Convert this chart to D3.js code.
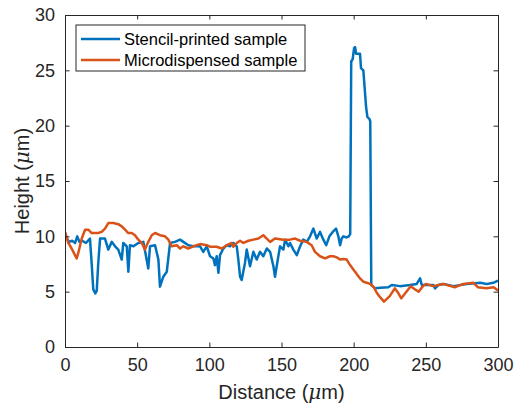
<!DOCTYPE html>
<html>
<head>
<meta charset="utf-8">
<script src="https://cdn.jsdelivr.net/npm/d3@7"></script>
<style>
  html, body { margin: 0; padding: 0; background: #fff; }
  svg { display: block; font-family: "Liberation Sans", Arial, sans-serif; }
</style>
</head>
<body>
<div id="chart"></div>
<script>
// profile data
const stencilDist = [0, 1.2, 3, 5, 7, 8.5, 10, 12, 14.5, 17.3, 18.5, 19.6, 21, 22, 23, 24.3, 27.7, 30, 32.4, 34.7,
  36.9, 39.3, 40.4, 42.8, 43.9, 45, 47.4, 50.8, 54.3, 57.7, 58.9, 62.4, 64.7, 65.8, 68.1, 70.5, 72.8, 76.2, 79.7, 82,
  85.5, 88.9, 91, 93.6, 95.8, 98.2, 100.5, 102.8, 103.9, 105.1, 106.3, 107.4, 109.7, 112.1, 114.3, 116.6, 119, 120.1,
  121.3, 122.4, 124.7, 125.9, 128.2, 130.5, 132.8, 135.1, 137.4, 139.8, 142.1, 144.4, 145.5, 147.8, 149, 151.3, 152.5,
  154.8, 155.9, 158.2, 160.6, 162.9, 165.1, 167.5, 169.8, 172.1, 174.4, 176.7, 179, 181, 183.2, 185.5, 187.8, 189.4,
  190.6, 191.7, 192.9, 195.2, 196.6, 197.6, 198.3, 199.3, 200.3, 201, 201.7, 204.4, 205.1, 206.7, 208.6, 209.5, 210.9,
  211.5, 212.2, 214.8, 218.3, 224, 226.4, 232, 239, 243.7, 246, 247.2, 255.2, 256.4, 258.7, 262.2, 269.1, 278.4, 287.6,
  292.2, 296.8, 300];
const stencilHeight = [10.3, 9.8, 9.5, 9.6, 9.4, 10.0, 9.5, 9.6, 9.4, 9.8, 7.5, 5.2, 4.85, 5.1, 7.5, 9.8, 9.8, 8.8, 9.5, 9.1,
  8.8, 7.9, 9.4, 9.1, 6.8, 9.2, 9.1, 9.4, 9.5, 7.1, 9.1, 9.2, 7.9, 5.45, 6.35, 6.8, 9.4, 9.5, 9.7, 9.5,
  9.2, 9.1, 9.1, 9.1, 8.6, 9.1, 8.2, 8.0, 7.4, 8.2, 6.7, 8.3, 8.9, 9.2, 9.1, 9.4, 9.1, 7.9,
  6.35, 6.05, 7.6, 8.8, 7.3, 8.6, 7.9, 8.6, 8.2, 8.9, 8.6, 7.3, 6.35, 8.2, 9.1, 8.8, 9.7,
  9.1, 9.4, 8.8, 8.3, 9.1, 9.7, 9.5, 10.0, 10.7, 9.8, 10.4, 9.7, 9.2, 10.0, 10.4, 10.7, 10.0,
  9.2, 9.8, 10.0, 9.9, 10.0, 10.2, 25.8, 26.0, 27.0, 27.1, 26.5, 26.5, 25.2, 25.0, 21.7, 20.8, 20.6,
  20.4, 5.6, 5.3, 5.35, 5.4, 5.6, 5.5, 5.6, 5.7, 6.2, 5.6, 5.6, 5.3, 5.6, 5.7, 5.5, 5.7, 5.8,
  5.7, 5.8, 6.0];

const microDist = [0, 2.3, 4.6, 6.9, 8.1, 9.2, 11.6, 13.9, 16.2, 18.5, 20.8, 23.1, 25.4, 27.7, 30, 33.5, 36.9, 39.3, 41.6,
  43.9, 46.2, 48.5, 50.8, 53.2, 55.4, 57.7, 60.1, 62.4, 65.8, 69.3, 71.6, 73.9, 77.4, 79.7, 82, 85.4, 88.9, 93.6, 98.2,
  100.5, 105.1, 108.5, 112.1, 115.5, 116.6, 119, 121.3, 123.6, 127.1, 130.5, 134, 137.4, 139.8, 142.1, 145.5, 151.3,
  155.9, 159.4, 162.9, 167.5, 170.9, 173.2, 176.7, 180.2, 183.6, 185.9, 188.3, 190.6, 192.9, 195.2, 197.5, 199.8,
  202.1, 204.4, 206.7, 209.1, 211.4, 213.7, 216, 218.3, 221, 225, 228.5, 231, 233, 236, 239.5, 242.6, 245, 248, 250,
  255, 262, 270, 276, 283, 286, 292, 297, 300];
const microHeight = [10.4, 9.4, 8.9, 8.3, 8.0, 8.5, 9.8, 10.6, 10.6, 10.3, 10.3, 10.3, 10.4, 10.7, 11.2, 11.2, 11.1, 10.9, 10.6,
  10.3, 10.3, 10.1, 9.7, 9.4, 8.8, 9.5, 10.1, 10.3, 10.1, 10.0, 9.7, 9.1, 9.2, 8.9, 9.1, 8.9, 9.1, 9.3, 9.2,
  9.06, 9.06, 8.9, 9.2, 9.4, 9.06, 9.4, 9.6, 9.4, 9.6, 9.7, 9.8, 10.1, 9.8, 9.5, 9.8, 9.7,
  9.7, 9.8, 9.6, 9.5, 9.2, 8.6, 8.2, 8.0, 8.2, 8.2, 8.1, 7.9, 7.95, 7.9, 7.4, 7.0,
  6.6, 6.2, 5.9, 5.8, 5.7, 5.45, 4.9, 4.5, 4.1, 4.6, 5.3, 4.85, 4.4, 4.9, 5.5, 5.2, 5.0, 5.5, 5.7,
  5.5, 5.7, 5.4, 5.7, 5.8, 5.4, 5.3, 5.4, 5.1];

const xTicks = [0, 50, 100, 150, 200, 250, 300];
const yTicks = [0, 5, 10, 15, 20, 25, 30];
const seriesNames = ['Stencil-printed sample', 'Microdispensed sample'];
const seriesColors = ['#0072BD', '#D95319'];

const width = 527, height = 407;
const margin = { top: 15, right: 29, bottom: 60, left: 65 };
const plotW = width - margin.left - margin.right;
const plotH = height - margin.top - margin.bottom;
const axisColor = '#262626';
const tickLen = 4.5;
const lineW = 2.5;

const svg = d3.select('#chart').append('svg')
  .attr('width', width)
  .attr('height', height);

const x = d3.scaleLinear().domain([0, 300]).range([0, plotW]);
const y = d3.scaleLinear().domain([0, 30]).range([plotH, 0]);

svg.append('defs').append('clipPath').attr('id', 'plot-clip')
  .append('rect').attr('width', plotW).attr('height', plotH);

const g = svg.append('g').attr('transform', `translate(${margin.left},${margin.top})`);

// series
const series = [
  stencilDist.map((d, i) => [d, stencilHeight[i]]),
  microDist.map((d, i) => [d, microHeight[i]]),
];
const line = d3.line().x(d => x(d[0])).y(d => y(d[1]));

g.append('g').attr('clip-path', 'url(#plot-clip)')
  .selectAll('path')
  .data(series)
  .join('path')
  .attr('d', line)
  .attr('fill', 'none')
  .attr('stroke', (d, i) => seriesColors[i])
  .attr('stroke-width', lineW)
  .attr('stroke-linejoin', 'round');

// axes (ticks inside, mirrored on top/right)
function styleAxis(sel) {
  sel.select('.domain').attr('stroke', axisColor).attr('stroke-width', 1);
  sel.selectAll('.tick line').attr('stroke', axisColor).attr('stroke-width', 1);
  sel.selectAll('.tick text').attr('fill', axisColor).attr('font-size', 18)
    .attr('font-family', '"Liberation Sans", Arial, sans-serif');
}

g.append('g').attr('transform', `translate(0,${plotH})`)
  .call(d3.axisBottom(x).tickValues(xTicks).tickSize(-tickLen).tickSizeOuter(0).tickPadding(11))
  .call(styleAxis);
g.append('g')
  .call(d3.axisTop(x).tickValues(xTicks).tickSize(-tickLen).tickSizeOuter(0).tickFormat(''))
  .call(styleAxis);
g.append('g')
  .call(d3.axisLeft(y).tickValues(yTicks).tickSize(-tickLen).tickSizeOuter(0).tickPadding(10))
  .call(styleAxis);
g.append('g').attr('transform', `translate(${plotW},0)`)
  .call(d3.axisRight(y).tickValues(yTicks).tickSize(-tickLen).tickSizeOuter(0).tickFormat(''))
  .call(styleAxis);

// axis labels
const xLabel = svg.append('text')
  .attr('x', margin.left + plotW / 2)
  .attr('y', 399)
  .attr('text-anchor', 'middle')
  .attr('font-size', 20)
  .attr('fill', axisColor);
xLabel.append('tspan').text('Distance (');
xLabel.append('tspan').attr('font-style', 'italic').attr('font-family', '"DejaVu Serif", serif').text('μ');
xLabel.append('tspan').text('m)');

const yLabel = svg.append('text')
  .attr('transform', `translate(29,${margin.top + plotH / 2}) rotate(-90)`)
  .attr('text-anchor', 'middle')
  .attr('font-size', 20)
  .attr('fill', axisColor);
yLabel.append('tspan').text('Height (');
yLabel.append('tspan').attr('font-style', 'italic').attr('font-family', '"DejaVu Serif", serif').text('μ');
yLabel.append('tspan').text('m)');

// legend
const legend = svg.append('g').attr('transform', 'translate(76,25)');
legend.append('rect')
  .attr('width', 229).attr('height', 46)
  .attr('fill', '#fff').attr('stroke', axisColor).attr('stroke-width', 1);
const items = legend.selectAll('g.item')
  .data(seriesNames)
  .join('g')
  .attr('class', 'item')
  .attr('transform', (d, i) => `translate(0,${14 + i * 21})`);
items.append('line')
  .attr('x1', 5).attr('x2', 44)
  .attr('stroke', (d, i) => seriesColors[i])
  .attr('stroke-width', lineW);
items.append('text')
  .attr('x', 48).attr('dy', '0.36em')
  .attr('font-size', 16.5)
  .attr('fill', '#000')
  .text(d => d);
</script>
</body>
</html>
